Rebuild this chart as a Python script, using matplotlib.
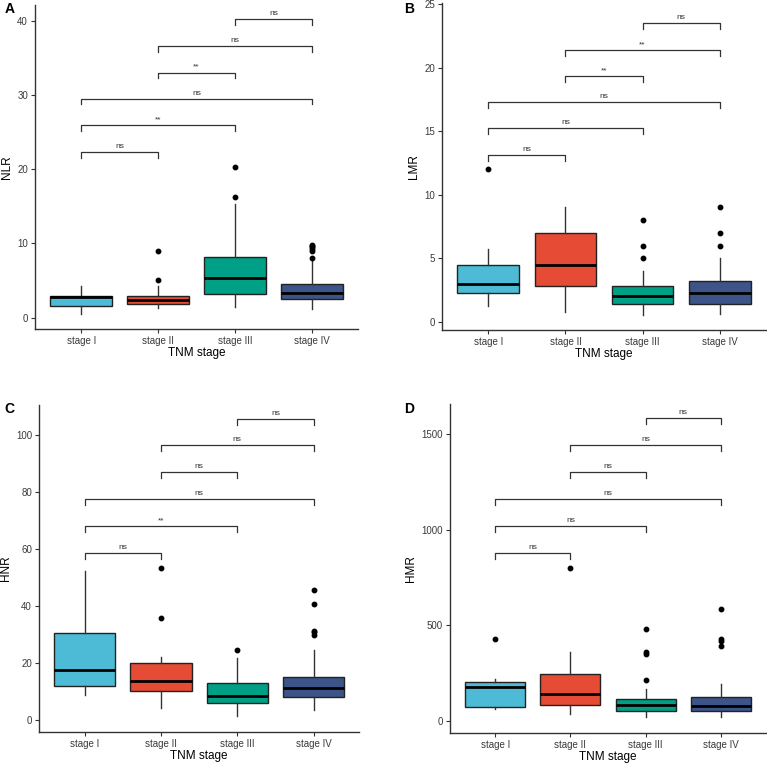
import numpy as np
import matplotlib.pyplot as plt

plt.rcParams['font.family'] = ['Liberation Sans', 'DejaVu Sans']

stages = ["stage I", "stage II", "stage III", "stage IV"]
colors = ["#4DBBD5", "#E64B35", "#00A087", "#3C5488"]

# box stats per panel: (whislo, q1, med, q3, whishi, fliers)
nlr_stats = [
    (0.5, 1.6, 2.8, 2.9, 4.3, []),
    (1.3, 1.9, 2.4, 3.0, 4.3, [5.1, 9.0]),
    (1.4, 3.2, 5.4, 8.2, 15.3, [16.2, 20.3]),
    (1.2, 2.5, 3.3, 4.6, 7.9, [8.0, 9.0, 9.3, 9.5, 9.7, 9.8]),
]
lmr_stats = [
    (1.25, 2.3, 3.0, 4.5, 5.7, [12.0]),
    (0.8, 2.8, 4.5, 7.0, 9.0, []),
    (0.5, 1.4, 2.0, 2.8, 4.0, [5.0, 6.0, 8.0]),
    (0.6, 1.4, 2.25, 3.25, 5.0, [6.0, 7.0, 9.0]),
]
hnr_stats = [
    (9.0, 12.2, 17.8, 30.6, 52.2, []),
    (4.2, 10.2, 13.8, 20.1, 22.2, [35.9, 53.6]),
    (1.4, 6.1, 8.4, 13.1, 21.8, [24.8]),
    (3.5, 8.2, 11.3, 15.2, 24.6, [30.0, 31.0, 31.5, 40.9, 45.6]),
]
hmr_stats = [
    (63, 73, 178, 204, 220, [429]),
    (37, 85, 143, 246, 359, [801]),
    (21, 52, 82, 113, 167, [213, 352, 363, 481]),
    (19, 52, 80, 126, 195, [391, 417, 429, 586]),
]

# comparisons: (group a, group b, bracket height, label)
nlr_comp = [(1, 2, 22.3, "ns"), (1, 3, 25.9, "**"), (1, 4, 29.5, "ns"),
            (2, 3, 33.0, "**"), (2, 4, 36.6, "ns"), (3, 4, 40.2, "ns")]
lmr_comp = [(1, 2, 13.15, "ns"), (1, 3, 15.25, "ns"), (1, 4, 17.3, "ns"),
            (2, 3, 19.35, "**"), (2, 4, 21.4, "**"), (3, 4, 23.5, "ns")]
hnr_comp = [(1, 2, 58.7, "ns"), (1, 3, 68.1, "**"), (1, 4, 77.5, "ns"),
            (2, 3, 87.0, "ns"), (2, 4, 96.4, "ns"), (3, 4, 105.8, "ns")]
hmr_comp = [(1, 2, 879, "ns"), (1, 3, 1020, "ns"), (1, 4, 1160, "ns"),
            (2, 3, 1301, "ns"), (2, 4, 1443, "ns"), (3, 4, 1586, "ns")]

panels = [
    ("A", "NLR", nlr_stats, nlr_comp, (-1.5, 42.1), [0, 10, 20, 30, 40],
     [0.0456, 0.570, 0.4212, 0.4235], (0.006, 0.988)),
    ("B", "LMR", lmr_stats, lmr_comp, (-0.65, 25.1), [0, 5, 10, 15, 20, 25],
     [0.5763, 0.5686, 0.4224, 0.4274], (0.527, 0.988)),
    ("C", "HNR", hnr_stats, hnr_comp, (-4.1, 110.7), [0, 20, 40, 60, 80, 100],
     [0.0508, 0.0431, 0.4177, 0.4279], (0.006, 0.466)),
    ("D", "HMR", hmr_stats, hmr_comp, (-61, 1660), [0, 500, 1000, 1500],
     [0.5867, 0.0422, 0.4120, 0.4301], (0.527, 0.466)),
]

fig = plt.figure(figsize=(7.67, 7.65), dpi=100)

for letter, ylab, stats, comps, ylim, yticks, rect, lpos in panels:
    ax = fig.add_axes(rect)
    bxp_stats = []
    for lo, q1, med, q3, hi, fl in stats:
        bxp_stats.append({"whislo": lo, "q1": q1, "med": med, "q3": q3,
                          "whishi": hi, "fliers": fl})
    bp = ax.bxp(bxp_stats, positions=[1, 2, 3, 4], widths=0.8,
                patch_artist=True, showcaps=False,
                boxprops=dict(edgecolor="#222222", linewidth=1.0),
                whiskerprops=dict(color="#333333", linewidth=1.0),
                medianprops=dict(color="black", linewidth=2.0),
                flierprops=dict(marker="o", markerfacecolor="black",
                                markeredgecolor="black", markersize=3.2))
    for patch, c in zip(bp["boxes"], colors):
        patch.set_facecolor(c)

    tick = (ylim[1] - ylim[0]) * 0.018
    for a, b, h, lab in comps:
        ax.plot([a, a, b, b], [h - tick, h, h, h - tick],
                color="#333333", linewidth=0.9)
        ax.annotate(lab, (0.5 * (a + b), h), xytext=(0, 1.5),
                    textcoords="offset points", ha="center", va="bottom",
                    fontsize=6, color="#333333")

    ax.set_xlim(0.4, 4.6)
    ax.set_ylim(*ylim)
    ax.set_yticks(yticks)
    ax.set_xticks([1, 2, 3, 4])
    ax.set_xticklabels(stages)
    ax.spines["top"].set_visible(False)
    ax.spines["right"].set_visible(False)
    for s in ("left", "bottom"):
        ax.spines[s].set_color("#333333")
        ax.spines[s].set_linewidth(1.0)
    ax.tick_params(axis="both", length=3, width=0.8, color="#333333",
                   labelsize=7, labelcolor="#3A3A3A", pad=2)
    ax.set_xlabel("TNM stage", fontsize=8.5, labelpad=1)
    ax.set_ylabel(ylab, fontsize=8.5, labelpad=3)

    fig.text(lpos[0], lpos[1], letter, fontsize=10, fontweight="bold",
             ha="left", va="center")

fig.savefig("out.png", dpi=100)
